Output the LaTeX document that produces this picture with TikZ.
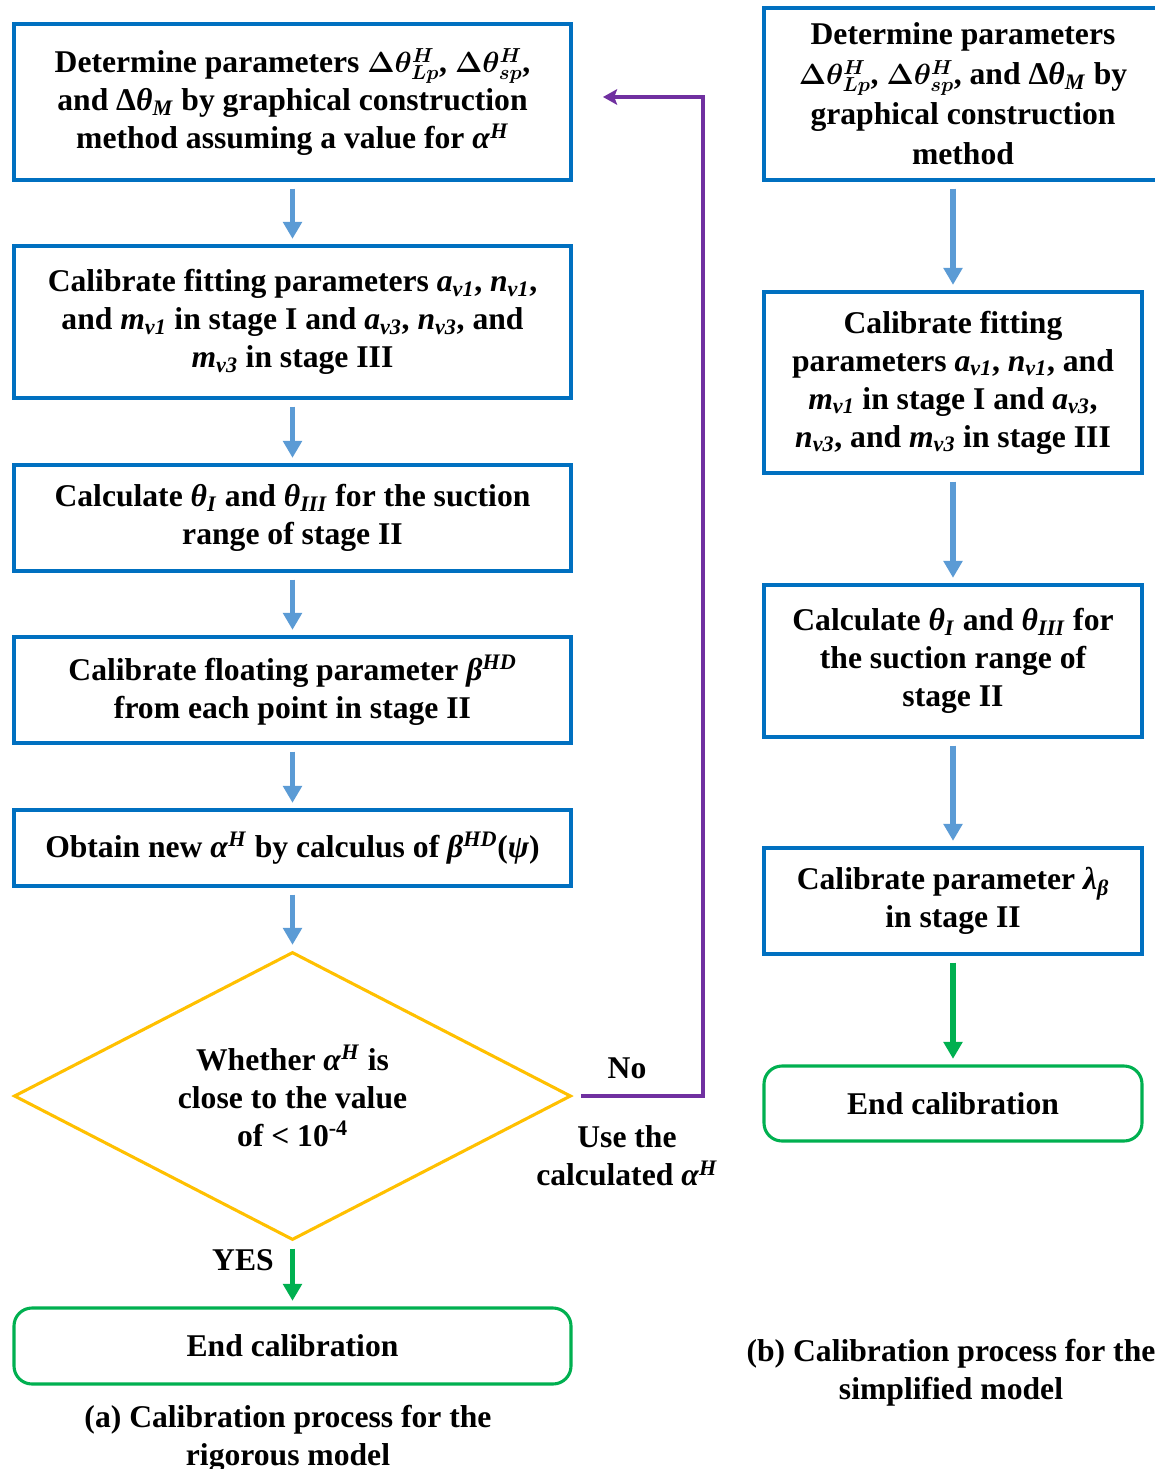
\documentclass[tikz,border=0pt]{standalone}
\usepackage{fontspec}
\setmainfont{Liberation Serif}
\usepackage{bm}
\usetikzlibrary{shapes.geometric,arrows.meta}

\definecolor{boxblue}{HTML}{0070C0}
\definecolor{arrowblue}{HTML}{5B9BD5}
\definecolor{decyellow}{HTML}{FFC000}
\definecolor{okgreen}{HTML}{00B050}
\definecolor{loopviolet}{HTML}{7030A0}

\newcommand{\vsb}[2]{\textit{#1}\textsubscript{\textit{#2}}}
\newcommand{\vsp}[2]{\textit{#1}\textsuperscript{\textit{#2}}}
\newcommand{\dth}[1]{$\bm{\Delta\theta^{H}_{#1}}$}

\begin{document}
\begin{tikzpicture}[font=\fontsize{22.5}{27}\selectfont\bfseries,
    blockbox/.style={draw=boxblue, line width=2.2pt, align=center, inner sep=0pt},
    endbox/.style={draw=okgreen, line width=2.2pt, rounded corners=0.45cm, align=center, inner sep=0pt},
    decision/.style={draw=decyellow, line width=2.2pt, shape=diamond, aspect=1.93, align=center, inner sep=0pt},
    flowarrow/.style={draw=arrowblue, line width=4pt, -{Triangle[width=13pt,length=12pt]}, shorten <=5pt, shorten >=4pt},
    okarrow/.style={draw=okgreen, line width=3.6pt, -{Triangle[width=13pt,length=12pt]}, shorten <=5pt, shorten >=4pt},
    loopline/.style={draw=loopviolet, line width=2.2pt, -{Stealth[width=11pt,length=10pt,inset=2pt]}}]
    \useasboundingbox (0, 0) rectangle (28.875, -36.725);
    \fill[white] (0, 0) rectangle (28.875, -36.725);

    % (a) rigorous model
    \node[blockbox, minimum width=13.925cm, minimum height=3.9cm] (a1) at (7.3125, -2.55)
        {Determine parameters \dth{Lp}, \dth{sp},\\ and Δ\vsb{θ}{M} by graphical construction\\ method assuming a value for \vsp{α}{H}};
    \node[blockbox, minimum width=13.925cm, minimum height=3.8cm] (a2) at (7.3125, -8.05)
        {Calibrate fitting parameters \vsb{a}{v1}, \vsb{n}{v1},\\ and \vsb{m}{v1} in stage I and \vsb{a}{v3}, \vsb{n}{v3}, and\\ \vsb{m}{v3} in stage III};
    \node[blockbox, minimum width=13.925cm, minimum height=2.65cm] (a3) at (7.3125, -12.95)
        {Calculate \vsb{θ}{I} and \vsb{θ}{III} for the suction\\ range of stage II};
    \node[blockbox, minimum width=13.925cm, minimum height=2.65cm] (a4) at (7.3125, -17.25)
        {Calibrate floating parameter \vsp{β}{HD}\\ from each point in stage II};
    \node[blockbox, minimum width=13.925cm, minimum height=1.9cm] (a5) at (7.3125, -21.2)
        {Obtain new \vsp{α}{H} by calculus of \vsp{β}{HD}(\textit{ψ})};
    \node[decision, minimum width=13.925cm, minimum height=7.2cm] (check) at (7.3125, -27.4)
        {Whether \vsp{α}{H} is\\ close to the value\\ of < 10\textsuperscript{-4}};
    \node[endbox, minimum width=13.925cm, minimum height=1.9cm] (aend) at (7.3125, -33.65) {End calibration};
    \node[align=center] (capa) at (7.2, -35.97) {(a) Calibration process for the\\ rigorous model};

    \draw[flowarrow] (a1) -- (a2);
    \draw[flowarrow] (a2) -- (a3);
    \draw[flowarrow] (a3) -- (a4);
    \draw[flowarrow] (a4) -- (a5);
    \draw[flowarrow] (a5) -- (check);
    \draw[okarrow] (check) -- (aend);
    \node (yes) at (6.075, -31.5) {YES};

    \coordinate (turn) at (17.575, -27.4);
    \coordinate (back) at (15.075, -2.425);
    \draw[loopline] ([xshift=6pt]check.east) -- (turn) |- (back);
    \node (no) at (15.675, -26.7) {No};
    \node[align=center] (usenew) at (15.675, -28.9) {Use the\\ calculated \vsp{α}{H}};

    % (b) simplified model
    \node[blockbox, minimum width=9.95cm, minimum height=4.3cm, font=\fontsize{22.5}{28.5}\selectfont\bfseries] (b1) at (24.075, -2.35)
        {Determine parameters\\ \dth{Lp}, \dth{sp}, and Δ\vsb{θ}{M} by\\ graphical construction\\ method};
    \node[blockbox, minimum width=9.45cm, minimum height=4.525cm] (b2) at (23.825, -9.5625)
        {Calibrate fitting\\ parameters \vsb{a}{v1}, \vsb{n}{v1}, and\\ \vsb{m}{v1} in stage I and \vsb{a}{v3},\\ \vsb{n}{v3}, and \vsb{m}{v3} in stage III};
    \node[blockbox, minimum width=9.45cm, minimum height=3.8cm] (b3) at (23.825, -16.525)
        {Calculate \vsb{θ}{I} and \vsb{θ}{III} for\\ the suction range of\\ stage II};
    \node[blockbox, minimum width=9.45cm, minimum height=2.65cm] (b4) at (23.825, -22.525)
        {Calibrate parameter \vsb{λ}{β}\\ in stage II};
    \node[endbox, minimum width=9.45cm, minimum height=1.875cm] (bend) at (23.825, -27.5875) {End calibration};
    \node[align=center] (capb) at (23.775, -34.32) {(b) Calibration process for the\\ simplified model};

    \draw[flowarrow] (b1.south -| b2) -- (b2);
    \draw[flowarrow] (b2) -- (b3);
    \draw[flowarrow] (b3) -- (b4);
    \draw[okarrow] (b4) -- (bend);
\end{tikzpicture}
\end{document}
